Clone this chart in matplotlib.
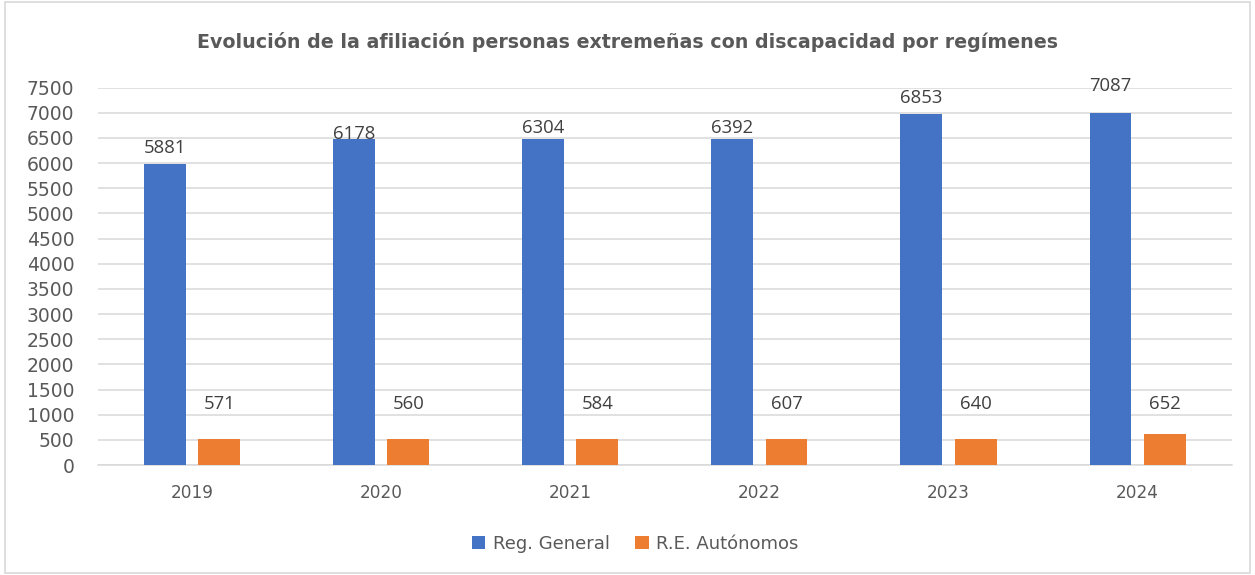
import matplotlib
matplotlib.use("Agg")
import matplotlib.pyplot as plt
from matplotlib.patches import Rectangle
import numpy as np

# ---- data ----
years = ["2019", "2020", "2021", "2022", "2023", "2024"]
general_labels = [5881, 6178, 6304, 6392, 6853, 7087]
autonomos_labels = [571, 560, 584, 607, 640, 652]
# bar heights as drawn in the reference picture
general_drawn = [5975, 6475, 6475, 6475, 6970, 7005]
autonomos_drawn = [510, 510, 510, 510, 510, 625]
series_names = ["Reg. General", "R.E. Autónomos"]
yticks = list(range(0, 7501, 500))
title = "Evolución de la afiliación personas extremeñas con discapacidad por regímenes"

# ---- style ----
BLUE = "#4472C4"
ORANGE = "#ED7D31"
GRID = "#D9D9D9"
TXT = "#595959"
LBL = "#404040"

fig = plt.figure(figsize=(12.55, 5.75), dpi=100)
ax = fig.add_axes([0.078, 0.1913, 0.9037, 0.6562])

x = np.arange(len(years))
w = 0.222
off = 0.143
ax.bar(x - off, general_drawn, w, color=BLUE, label=series_names[0], zorder=3)
ax.bar(x + off, autonomos_drawn, w, color=ORANGE, label=series_names[1], zorder=3)

# data labels (positions as they appear in the reference)
general_label_y = [6203, 6481, 6600, 6600, 7197, 7435]
autonomos_label_y = [1113] * len(years)
for i in range(len(years)):
    ax.text(x[i] - off, general_label_y[i], str(general_labels[i]), ha="center",
            va="baseline", fontsize=13.3, color=LBL, family="Open Sans", zorder=4,
            clip_on=False)
    ax.text(x[i] + off, autonomos_label_y[i], str(autonomos_labels[i]), ha="center",
            va="baseline", fontsize=13.3, color=LBL, family="Open Sans", zorder=4)

ax.set_xlim(-0.5, len(years) - 0.5)
ax.set_ylim(0, 7500)
ax.set_yticks(yticks)
ax.set_yticklabels([str(v) for v in yticks])
ax.set_xticks(x)
ax.set_xticklabels(years)
ax.tick_params(axis="y", length=0, pad=17, labelsize=13.5, labelcolor=TXT)
ax.tick_params(axis="x", length=0, pad=14, labelsize=12.2, labelcolor=TXT)
ax.grid(axis="y", color=GRID, linewidth=1.1, zorder=0)
ax.set_axisbelow(True)
for s in ["top", "right", "left"]:
    ax.spines[s].set_visible(False)
ax.spines["bottom"].set_color(GRID)
ax.spines["bottom"].set_linewidth(1.1)

fig.text(0.5, 0.927, title, ha="center", va="center", fontsize=13.7,
         fontweight="bold", color=TXT)

handles, labels = ax.get_legend_handles_labels()
fig.legend(handles, labels, loc="center", bbox_to_anchor=(0.506, 0.054), ncol=2,
           frameon=False, fontsize=13, labelcolor=TXT, handlelength=0.75,
           handleheight=0.75, handletextpad=0.4, columnspacing=1.4)

fig.patches.append(Rectangle((0.004, 0.004), 0.992, 0.992, transform=fig.transFigure,
                             fill=False, edgecolor=GRID, linewidth=1.2))

fig.savefig("out.png", dpi=100, facecolor="white")
